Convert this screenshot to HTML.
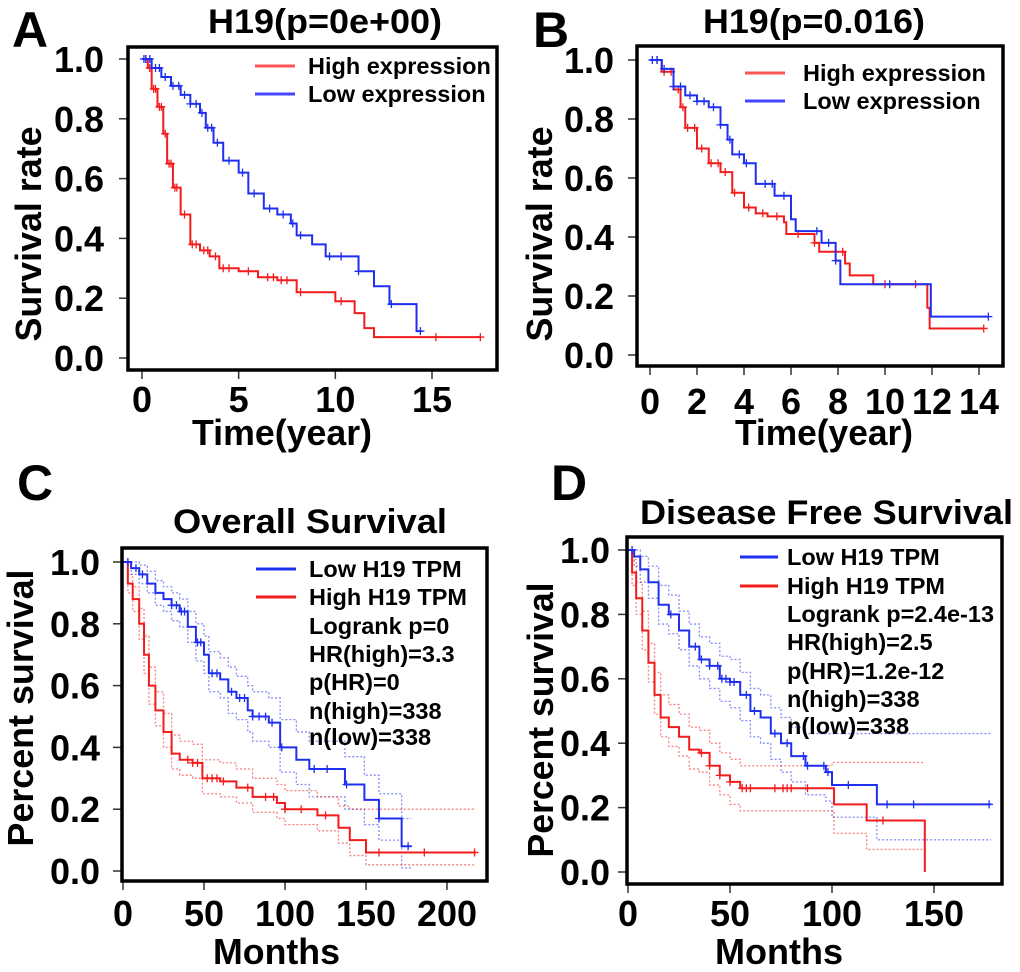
<!DOCTYPE html>
<html><head><meta charset="utf-8"><style>
html,body{margin:0;padding:0;background:#fff;}
svg{display:block;font-family:"Liberation Sans",Arial,sans-serif;font-weight:bold;}
</style></head><body>
<svg id="fig" width="1020" height="972" viewBox="0 0 1020 972"></svg>
<script>
// ---- Panel A data (years) ----
const aHighT=[0,0.3,0.5,0.8,1.1,1.3,1.6,2,2.5,3,3.5,4,5,6,7,8,9,10,11,11.5,12,17.5];
const aHighS=[1,0.97,0.9,0.84,0.75,0.65,0.57,0.48,0.38,0.36,0.34,0.3,0.29,0.27,0.26,0.22,0.22,0.19,0.15,0.1,0.07,0.07];
const aLowT=[0,0.5,1,1.5,2,2.5,3,3.3,3.7,4.2,5,5.5,6.3,7,7.7,8,8.8,9.5,11.2,12,12.8,14.2,14.5];
const aLowS=[1,0.97,0.94,0.91,0.88,0.85,0.82,0.77,0.72,0.66,0.62,0.55,0.5,0.48,0.45,0.41,0.38,0.34,0.29,0.24,0.18,0.09,0.09];
const aHighCens=[0.2,0.4,0.6,0.7,0.9,1,1.2,1.4,1.5,1.7,1.8,2.2,2.6,2.8,3.2,3.4,3.8,4.2,4.5,5.5,6.5,6.8,7.2,7.5,8.2,10.3,15.2,17.5];
const aLowCens=[0.1,0.2,0.4,0.7,0.9,1.2,1.6,1.9,2.2,2.5,2.8,3.1,3.4,3.6,3.9,4.5,5.2,5.8,6.6,7.3,7.8,8.2,9.7,10.3,11.2,12.9,14.4];
// ---- Panel B data (years) ----
const bHighT=[0,0.5,1,1.3,1.5,2,2.5,3,3.5,4,4.5,5,5.7,5.8,6.5,7,7.2,8.2,8.3,8.5,9.5,11.7,11.8,11.9,14.2];
const bHighS=[1,0.96,0.9,0.84,0.77,0.7,0.65,0.62,0.55,0.5,0.48,0.47,0.45,0.41,0.41,0.38,0.35,0.35,0.31,0.27,0.24,0.24,0.16,0.09,0.09];
const bLowT=[0,0.5,1,1.5,2,2.5,3,3.3,3.5,4,4.5,5.3,6,6.2,7.3,7.9,8.1,11.9,11.95,14.4];
const bLowS=[1,0.97,0.91,0.88,0.86,0.84,0.78,0.73,0.68,0.65,0.58,0.54,0.46,0.42,0.38,0.32,0.24,0.24,0.13,0.13];
const bHighCens=[0.3,0.6,0.9,1.2,1.4,1.6,1.9,2.2,2.6,2.9,3.2,3.6,4.2,4.8,5.4,6.3,7,8.2,10,11.3,14.2];
const bLowCens=[0.1,0.3,0.6,1,1.3,1.7,2,2.3,2.7,3,3.4,3.8,4.1,4.9,5.2,5.7,7.1,7.6,7.9,10.2,14.4];
// ---- Panel C data (months) ----
const cLowT=[0,5,10,15,20,25,30,35,40,45,50,53,60,65,70,77,80,90,97,107,115,137,149,158,172,178];
const cLowS=[1,0.98,0.96,0.93,0.9,0.88,0.86,0.84,0.79,0.74,0.7,0.64,0.62,0.58,0.56,0.52,0.5,0.48,0.4,0.36,0.33,0.28,0.23,0.17,0.08,0.08];
const cLowU=[1,1,0.99,0.97,0.94,0.92,0.9,0.88,0.84,0.8,0.76,0.71,0.69,0.66,0.63,0.6,0.58,0.56,0.49,0.45,0.42,0.37,0.31,0.25,0.17,0.17];
const cLowL=[1,0.96,0.93,0.9,0.86,0.84,0.81,0.79,0.74,0.68,0.64,0.58,0.56,0.51,0.49,0.45,0.42,0.4,0.32,0.28,0.24,0.2,0.15,0.1,0.01,0.01];
const cHighT=[0,3,6,10,13,16,20,25,30,35,43,49,60,70,80,95,100,120,133,140,150,218];
const cHighS=[1,0.93,0.88,0.8,0.7,0.6,0.52,0.45,0.38,0.36,0.35,0.3,0.29,0.27,0.24,0.22,0.2,0.18,0.14,0.1,0.06,0.06];
const cHighU=[1,0.96,0.92,0.85,0.76,0.66,0.58,0.51,0.44,0.42,0.41,0.36,0.35,0.33,0.3,0.28,0.26,0.24,0.21,0.2,0.2,0.2];
const cHighL=[1,0.9,0.84,0.75,0.64,0.54,0.47,0.4,0.33,0.31,0.3,0.25,0.24,0.22,0.19,0.17,0.15,0.13,0.09,0.05,0.02,0.02];
const cLowCens=[3,8,12,30,33,36,38,46,48,55,58,67,72,75,80,84,88,92,98,118,126,138,158,176];
const cHighCens=[40,43,46,52,55,58,62,77,88,93,100,110,125,158,186,217];
// ---- Panel D data (months) ----
const dLowT=[0,3,6,10,15,20,25,30,35,40,45,50,55,60,65,70,75,80,87,97,100,122,178];
const dLowS=[1,0.98,0.94,0.9,0.83,0.8,0.75,0.7,0.66,0.64,0.6,0.59,0.55,0.5,0.48,0.43,0.4,0.36,0.33,0.31,0.27,0.21,0.21];
const dLowU=[1,1,0.98,0.95,0.89,0.86,0.81,0.77,0.73,0.71,0.67,0.66,0.62,0.57,0.55,0.51,0.48,0.45,0.43,0.43,0.43,0.43,0.43];
const dLowL=[1,0.95,0.9,0.85,0.77,0.74,0.69,0.64,0.6,0.57,0.53,0.51,0.47,0.42,0.4,0.35,0.31,0.28,0.24,0.22,0.17,0.1,0.1];
const dHighT=[0,2,4,7,10,13,16,20,25,30,35,40,45,50,55,100,101,116,117,145,145.5];
const dHighS=[1,0.93,0.85,0.75,0.65,0.55,0.48,0.45,0.42,0.38,0.37,0.33,0.3,0.28,0.26,0.26,0.21,0.21,0.16,0.16,0];
const dHighU=[1,0.97,0.9,0.81,0.71,0.62,0.55,0.52,0.49,0.45,0.44,0.4,0.37,0.35,0.33,0.34,0.34,0.34,0.34,0.34,0.34];
const dHighL=[1,0.89,0.8,0.69,0.59,0.49,0.42,0.39,0.36,0.32,0.31,0.27,0.24,0.21,0.19,0.19,0.12,0.12,0.07,0.07,0.07];
const dLowCens=[2,21,33,36,40,44,46,48,50,52,58,62,72,78,86,88,96,98,108,127,140,177];
const dHighCens=[36,40,45,50,56,58,60,72,76,78,80,88,125];
// ---- tick labels ----
const abYTicks=["0.0","0.2","0.4","0.6","0.8","1.0"];
const aXTicks=[0,5,10,15];
const bXTicks=[0,2,4,6,8,10,12,14];
const cXTicks=[0,50,100,150,200];
const dXTicks=[0,50,100,150];

const NS="http://www.w3.org/2000/svg";
const svg=document.getElementById('fig');
function el(tag,attrs,parent){const e=document.createElementNS(NS,tag);for(const k in attrs)e.setAttribute(k,attrs[k]);(parent||svg).appendChild(e);return e;}
function txt(s,attrs,parent){const e=el('text',attrs,parent);e.textContent=s;return e;}
function stepPath(T,S,xs,ys){let d='M'+xs(T[0])+','+ys(S[0]);for(let i=1;i<T.length;i++){d+=' H'+xs(T[i])+' V'+ys(S[i]);}return d;}
function survAt(T,S,t){let v=S[0];for(let i=0;i<T.length;i++){if(T[i]<=t)v=S[i];}return v;}

function panel(o){
  const g=el('g',{});
  
  
  const xs=t=>o.x0+(t-o.xmin)*(o.x1-o.x0)/(o.xmax-o.xmin);
  const ys=v=>o.y0+(1-v)*(o.y1-o.y0);
  abYTicks.forEach((lab,i)=>{const v=parseFloat(lab);const y=ys(v);
    const t=el('line',{x1:o.box[0]-9,x2:o.box[0],y1:y,y2:y,stroke:'#333','stroke-width':1.5},g);
    
    const l=txt(lab,{x:o.ylabX,y:y+13,'font-size':o.tickFs,'text-anchor':'end'},g);
    });
  o.xticks.forEach(v=>{const x=xs(v);
    const t=el('line',{x1:x,x2:x,y1:o.box[3],y2:o.box[3]+9,stroke:'#333','stroke-width':1.5},g);
    
    const l=txt(String(v),{x:x,y:o.xlabY,'font-size':o.tickFs,'text-anchor':'middle'},g);
    });
  (o.ci||[]).forEach(c=>{const p=el('path',{d:stepPath(c.T,c.V,xs,ys),fill:'none',stroke:c.col,'stroke-width':1.3,'stroke-dasharray':'2,2',opacity:0.55},g);
    });
  o.series.forEach(s=>{const p=el('path',{d:stepPath(s.T,s.S,xs,ys),fill:'none',stroke:s.col,'stroke-width':2},g);
    
    s.C.forEach(t=>{const x=xs(t),y=ys(survAt(s.T,s.S,t));
      const m=el('path',{d:`M${x-4},${y}H${x+4}M${x},${y-4}V${y+4}`,stroke:s.col,'stroke-width':1.3},g);
      });});
  const b=el('rect',{x:o.box[0],y:o.box[1],width:o.box[2]-o.box[0],height:o.box[3]-o.box[1],fill:'none',stroke:'#000','stroke-width':3.5},g);
  
  o.legend.forEach((L,i)=>{if(L.col){const ln=el('line',{x1:o.legX[0],x2:o.legX[1],y1:o.legY[i]-8,y2:o.legY[i]-8,stroke:L.col,'stroke-width':3},g);
      }
    const t=txt(L.text,{x:o.legX[2],y:o.legY[i],'font-size':o.legFs},g);
    });
  const ti=txt(o.title,{x:(o.titleX[0]+o.titleX[1])/2,y:o.titleY,'font-size':34,'text-anchor':'middle',textLength:o.titleX[1]-o.titleX[0],lengthAdjust:'spacingAndGlyphs'},g);
  
  const xt=txt(o.xtitle,{x:(o.xtX[0]+o.xtX[1])/2,y:o.xtY,'font-size':36,'text-anchor':'middle',textLength:o.xtX[1]-o.xtX[0],lengthAdjust:'spacingAndGlyphs'},g);
  
  const yt=txt(o.ytitle,{x:0,y:0,'font-size':36,'text-anchor':'middle',transform:`translate(${o.ytX},${o.ytY}) rotate(-90)`,textLength:o.ytLen,lengthAdjust:'spacingAndGlyphs'},g);
  
  const lt=txt(o.letter,{x:o.letterPos[0],y:o.letterPos[1],'font-size':50},g);
  
}
const RED='#f21c1c',BLUE='#1f2ff0';
panel({name:'panel-a',x0:142,x1:432,xmin:0,xmax:15,y0:59,y1:358,box:[128,47,497,370],xticks:aXTicks,ylabX:104,xlabY:412,tickFs:36,
  series:[{name:'high-expression-curve',T:aHighT,S:aHighS,C:aHighCens,col:RED},{name:'low-expression-curve',T:aLowT,S:aLowS,C:aLowCens,col:BLUE}],
  legend:[{text:'High expression',col:'#f55'},{text:'Low expression',col:'#44f'}],legX:[255,295,308],legY:[74,102],legFs:23.5,
  title:'H19(p=0e+00)',titleX:[208,442],titleY:33,xtitle:'Time(year)',xtX:[192,372],xtY:445,ytitle:'Survival rate',ytX:41,ytY:234,ytLen:215,letter:'A',letterPos:[12,47]});
panel({name:'panel-b',x0:650,x1:979,xmin:0,xmax:14,y0:60,y1:355,box:[637,46,1003,366],xticks:bXTicks,ylabX:614,xlabY:414,tickFs:36,
  series:[{name:'high-expression-curve',T:bHighT,S:bHighS,C:bHighCens,col:RED},{name:'low-expression-curve',T:bLowT,S:bLowS,C:bLowCens,col:BLUE}],
  legend:[{text:'High expression',col:'#f55'},{text:'Low expression',col:'#44f'}],legX:[745,785,803],legY:[81,109],legFs:23.5,
  title:'H19(p=0.016)',titleX:[703,925],titleY:33,xtitle:'Time(year)',xtX:[735,913],xtY:445,ytitle:'Survival rate',ytX:552,ytY:234,ytLen:215,letter:'B',letterPos:[533,47]});
panel({name:'panel-c',x0:123,x1:447,xmin:0,xmax:200,y0:562,y1:871,box:[122,548,487,881],xticks:cXTicks,ylabX:100,xlabY:926,tickFs:36,
  ci:[{T:cLowT,V:cLowU,col:BLUE},{T:cLowT,V:cLowL,col:BLUE},{T:cHighT,V:cHighU,col:RED},{T:cHighT,V:cHighL,col:RED}],
  series:[{name:'high-h19-curve',T:cHighT,S:cHighS,C:cHighCens,col:RED},{name:'low-h19-curve',T:cLowT,S:cLowS,C:cLowCens,col:BLUE}],
  legend:[{text:'Low H19 TPM',col:BLUE},{text:'High H19 TPM',col:RED},{text:'Logrank p=0'},{text:'HR(high)=3.3'},{text:'p(HR)=0'},{text:'n(high)=338'},{text:'n(low)=338'}],
  legX:[256,296,309],legY:[577,605,634,662,690,719,745],legFs:23.5,
  title:'Overall Survival',titleX:[173,447],titleY:533,xtitle:'Months',xtX:[213,340],xtY:964,ytitle:'Percent survival',ytX:33,ytY:708,ytLen:277,letter:'C',letterPos:[17,500]});
panel({name:'panel-d',x0:628,x1:934,xmin:0,xmax:150,y0:550,y1:872,box:[627,537,1002,884],xticks:dXTicks,ylabX:610,xlabY:926,tickFs:36,
  ci:[{T:dLowT,V:dLowU,col:BLUE},{T:dLowT,V:dLowL,col:BLUE},{T:dHighT,V:dHighU,col:RED},{T:dHighT,V:dHighL,col:RED}],
  series:[{name:'high-h19-curve',T:dHighT,S:dHighS,C:dHighCens,col:RED},{name:'low-h19-curve',T:dLowT,S:dLowS,C:dLowCens,col:BLUE}],
  legend:[{text:'Low H19 TPM',col:BLUE},{text:'High H19 TPM',col:RED},{text:'Logrank p=2.4e-13'},{text:'HR(high)=2.5'},{text:'p(HR)=1.2e-12'},{text:'n(high)=338'},{text:'n(low)=338'}],
  legX:[740,778,787],legY:[565,594,622,650,679,707,734],legFs:23.5,
  title:'Disease Free Survival',titleX:[640,1013],titleY:524,xtitle:'Months',xtX:[715,843],xtY:964,ytitle:'Percent survival',ytX:553,ytY:720,ytLen:275,letter:'D',letterPos:[551,500]});
</script>
</body></html>
